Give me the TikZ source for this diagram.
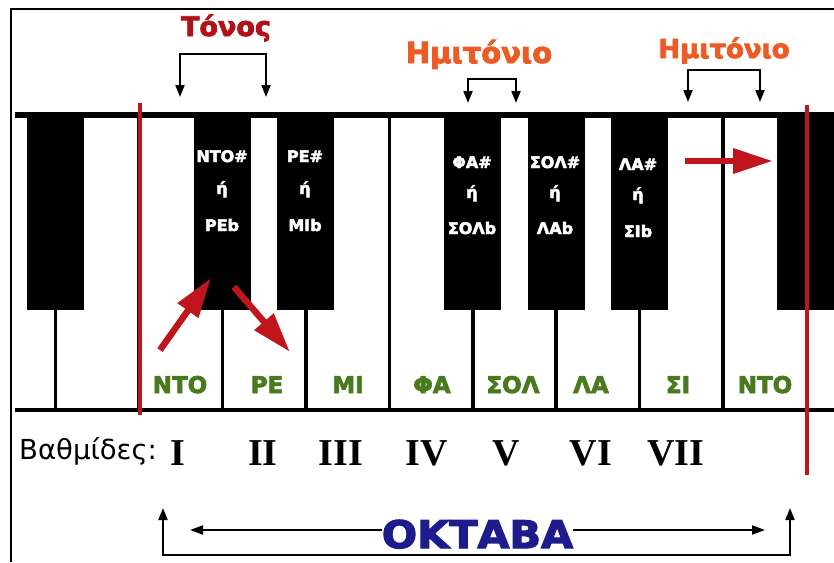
\documentclass[tikz,border=0pt]{standalone}
\usepackage{fontspec}
\setmainfont{DejaVu Sans}
\newfontfamily\heavyfont{DejaVu Sans}[BoldFeatures={FakeBold=3}]
\newfontfamily\romanfont{Liberation Serif}
\usetikzlibrary{arrows.meta}
\definecolor{pianored}{HTML}{C0151C}
\definecolor{tonred}{HTML}{B01218}
\definecolor{semiorange}{HTML}{EE5A24}
\definecolor{notegreen}{HTML}{4A7A1E}
\definecolor{octblue}{HTML}{1C1C8C}
\tikzset{
  keytxt/.style={text=white, font=\heavyfont\bfseries\fontsize{16}{16}\selectfont, anchor=base, inner sep=0pt},
  notetxt/.style={text=notegreen, font=\heavyfont\bfseries\fontsize{23}{23}\selectfont, anchor=base, inner sep=0pt},
  headtxt/.style={font=\heavyfont\bfseries, anchor=base, inner sep=0pt},
  romantxt/.style={font=\romanfont\bfseries\fontsize{38}{38}\selectfont, anchor=base, inner sep=0pt},
  bracketline/.style={line width=2pt, {Triangle[length=12pt,width=9pt]}-{Triangle[length=12pt,width=9pt]}},
  octarrow/.style={line width=2pt, -{Triangle[length=13pt,width=9pt]}},
  redarrow/.style={pianored, line width=6.5pt, -{Triangle[length=40pt,width=24pt]}},
  redline/.style={pianored, line width=4pt},
}
\begin{document}
\begin{tikzpicture}[x=1pt,y=-1pt]
\useasboundingbox (0,0) rectangle (834,562);
\fill[white] (0,0) rectangle (834,562);
% frame
\draw[line width=2pt] (11,562) -- (11,9) -- (834,9);
% keyboard
\foreach \i in {0,...,9}
  \draw[line width=3.5pt] ({55.5+83.45*\i},116) -- ({55.5+83.45*\i},410);
\fill[black] (15,112) rectangle (834,118);
\fill[black] (15,408) rectangle (834,412);
\foreach \i in {0,2,3,5,6,7}
  \fill[black] ({55.5+83.45*\i-28.5},116) rectangle ({55.5+83.45*\i+28.5},310);
\fill[black] (777,116) rectangle (834,310);
% red octave lines
\draw[redline] (139.5,103) -- (139.5,415);
\draw[redline] (806.5,105) -- (806.5,475);
% black key labels
\node[keytxt] (cs1) at (222,162) {ΝΤΟ\#};
\node[keytxt] (cs2) at (222,194) {ή};
\node[keytxt] (cs3) at (222,231) {ΡΕb};
\node[keytxt] (ds1) at (305,162) {ΡΕ\#};
\node[keytxt] (ds2) at (305,194) {ή};
\node[keytxt] (ds3) at (305,231) {ΜΙb};
\node[keytxt] (fs1) at (472,168) {ΦΑ\#};
\node[keytxt] (fs2) at (472,198) {ή};
\node[keytxt] (fs3) at (472,234) {ΣΟΛb};
\node[keytxt] (gs1) at (555,168) {ΣΟΛ\#};
\node[keytxt] (gs2) at (555,198) {ή};
\node[keytxt] (gs3) at (555,234) {ΛΑb};
\node[keytxt] (as1) at (638,170) {ΛΑ\#};
\node[keytxt] (as2) at (638,200) {ή};
\node[keytxt] (as3) at (638,237) {ΣΙb};
% white key labels
\node[notetxt] (c) at (180,393) {ΝΤΟ};
\node[notetxt] (d) at (267,393) {ΡΕ};
\node[notetxt] (e) at (348,393) {ΜΙ};
\node[notetxt] (f) at (432,393) {ΦΑ};
\node[notetxt] (g) at (513,393) {ΣΟΛ};
\node[notetxt] (a) at (591,393) {ΛΑ};
\node[notetxt] (b) at (678,393) {ΣΙ};
\node[notetxt] (c2) at (765,393) {ΝΤΟ};
% red arrows
\coordinate (r1s) at (160,350); \coordinate (r1e) at (211,278);
\coordinate (r2s) at (234,287); \coordinate (r2e) at (290,352);
\coordinate (r3s) at (685,161); \coordinate (r3e) at (773,161);
\draw[redarrow] (r1s) -- (r1e);
\draw[redarrow] (r2s) -- (r2e);
\draw[redarrow] (r3s) -- (r3e);
% top labels and brackets
\node[headtxt, text=tonred] (tonos) at (226,36) {\fontsize{27}{27}\selectfont Τόνος};
\node[headtxt, text=semiorange] (hemi1) at (479,63) {\fontsize{29}{29}\selectfont Ημιτόνιο};
\node[headtxt, text=semiorange] (hemi2) at (724,58) {\fontsize{26}{26}\selectfont Ημιτόνιο};
\coordinate (tl) at (180,97); \coordinate (tr) at (266,97); \coordinate (tb) at (0,54);
\draw[bracketline] (tl) -- (tl |- tb) -- (tr |- tb) -- (tr);
\coordinate (h1l) at (468,103); \coordinate (h1r) at (516,103); \coordinate (h1b) at (0,79);
\draw[bracketline] (h1l) -- (h1l |- h1b) -- (h1r |- h1b) -- (h1r);
\coordinate (h2l) at (688,102); \coordinate (h2r) at (760,102); \coordinate (h2b) at (0,70);
\draw[bracketline] (h2l) -- (h2l |- h2b) -- (h2r |- h2b) -- (h2r);
% degrees
\node[font=\fontsize{27.5}{27.5}\selectfont, anchor=base west, inner sep=0pt] (deg) at (19,459) {Βαθμίδες:};
\node[romantxt] (n1) at (178,465) {I};
\node[romantxt] (n2) at (263,465) {II};
\node[romantxt] (n3) at (341,465) {III};
\node[romantxt] (n4) at (427,465) {IV};
\node[romantxt] (n5) at (506,465) {V};
\node[romantxt] (n6) at (591,465) {VI};
\node[romantxt] (n7) at (676,465) {VII};
% octave
\node[headtxt, text=octblue] (okt) at (477.5,548) {\fontsize{38}{38}\selectfont\scalebox{1.09}[1]{ΟΚΤΑΒΑ}};
\coordinate (ol) at (190,530); \coordinate (or) at (765,530);
\draw[octarrow] (okt.west |- ol) -- (ol);
\draw[octarrow] (okt.east |- or) -- (or);
\coordinate (bl) at (163,508); \coordinate (br) at (790,508); \coordinate (bb) at (0,555);
\draw[bracketline] (bl) -- (bl |- bb) -- (br |- bb) -- (br);
\end{tikzpicture}
\end{document}
